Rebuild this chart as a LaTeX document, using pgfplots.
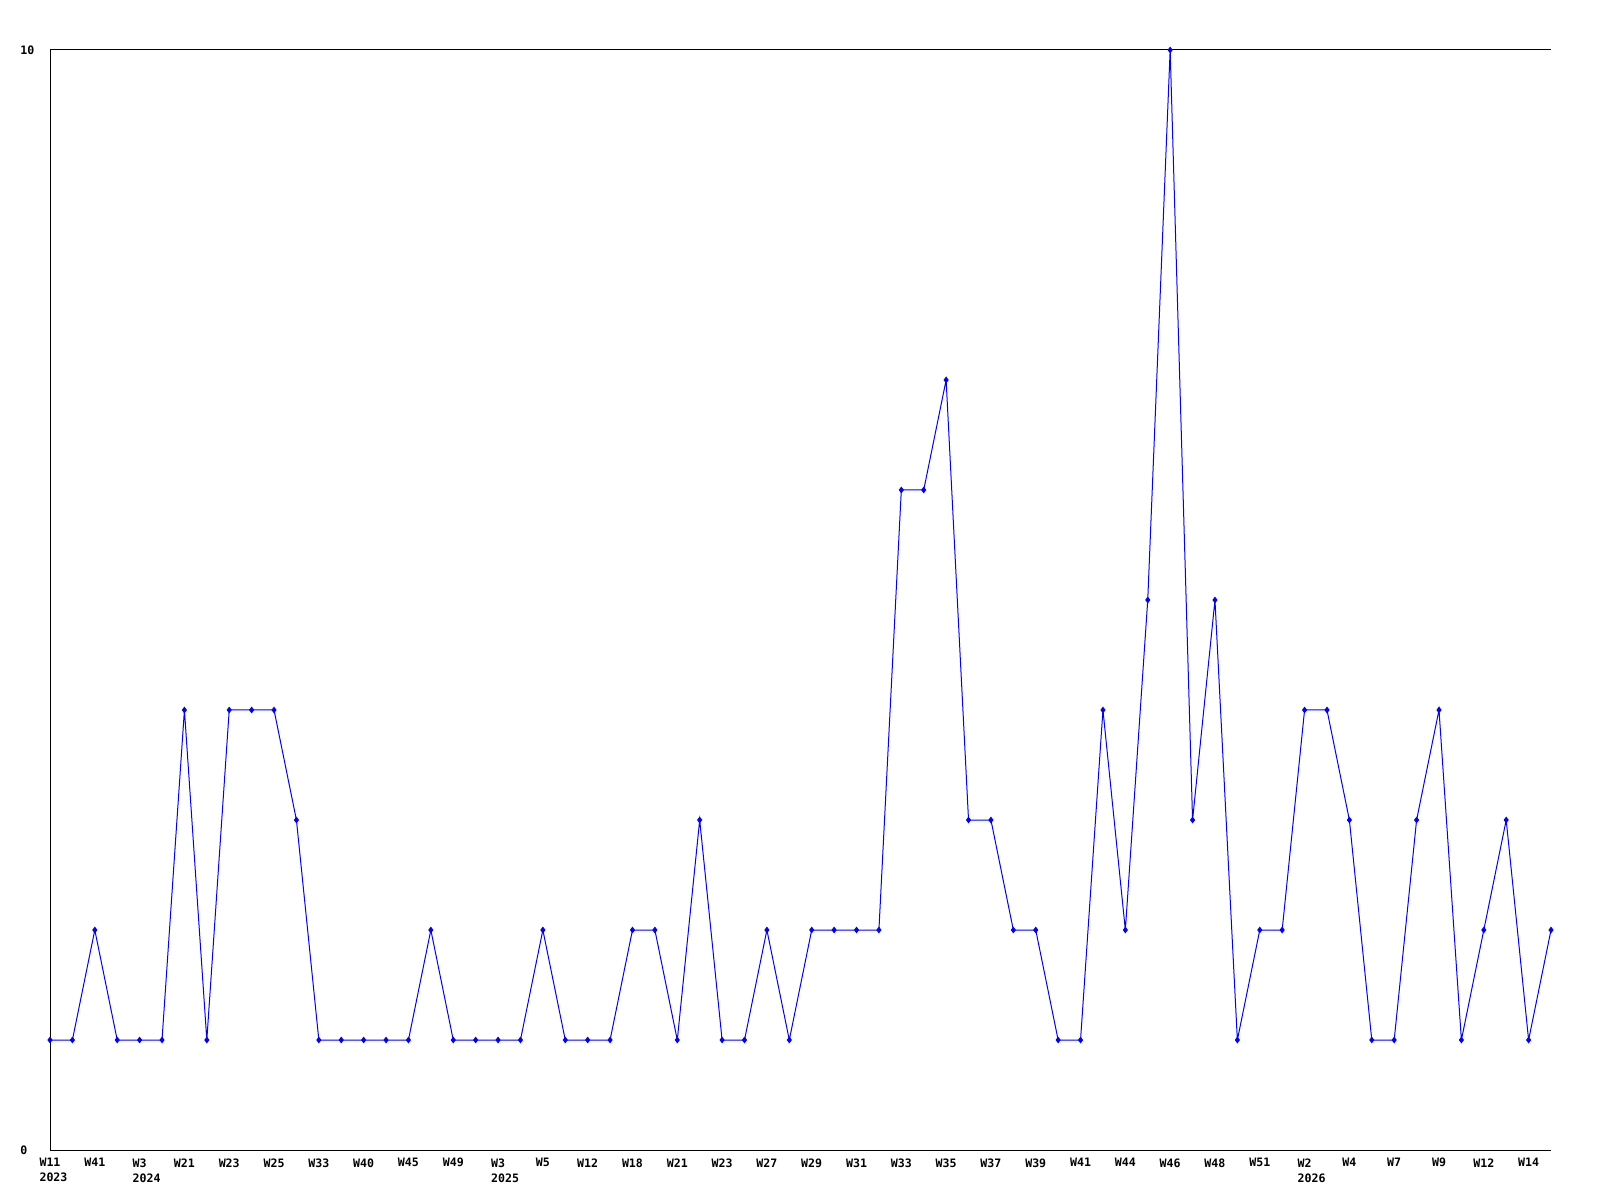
\documentclass[border=0pt]{standalone}
\usepackage{pgfplots}
\pgfplotsset{compat=1.18}
\usepackage{fontspec}
\setmonofont{DejaVu Sans Mono}
\newcommand{\yl}[2]{#1\\\rlap{#2}}
\begin{document}
\begin{tikzpicture}
\fill[white] (0,0) rectangle (800pt,600pt);
\path[use as bounding box] (0,0) rectangle (800pt,600pt);
\begin{axis}[
  at={(25pt,25pt)}, anchor=south west,
  scale only axis, width=750.5pt, height=550pt,
  xmin=0, xmax=67, ymin=0, ymax=10,
  axis line style={draw=none},
  major tick length=0pt,
  tick style={draw=none},
  ytick={0,10},
  yticklabels={0,10},
  yticklabel style={anchor=west, inner sep=0pt, xshift=-15pt, font=\fontsize{5.8}{7.5}\selectfont\ttfamily\bfseries},
  xtick={0,2,...,66},
  xticklabels={{\yl{W11}{2023}},{\yl{W41}{}},{\yl{W3}{2024}},{\yl{W21}{}},{\yl{W23}{}},{\yl{W25}{}},{\yl{W33}{}},{\yl{W40}{}},{\yl{W45}{}},{\yl{W49}{}},{\yl{W3}{2025}},{\yl{W5}{}},{\yl{W12}{}},{\yl{W18}{}},{\yl{W21}{}},{\yl{W23}{}},{\yl{W27}{}},{\yl{W29}{}},{\yl{W31}{}},{\yl{W33}{}},{\yl{W35}{}},{\yl{W37}{}},{\yl{W39}{}},{\yl{W41}{}},{\yl{W44}{}},{\yl{W46}{}},{\yl{W48}{}},{\yl{W51}{}},{\yl{W2}{2026}},{\yl{W4}{}},{\yl{W7}{}},{\yl{W9}{}},{\yl{W12}{}},{\yl{W14}{}}},
  xticklabel style={anchor=north, inner sep=0pt, yshift=-4pt, align=left, font=\fontsize{5.8}{7.5}\selectfont\ttfamily\bfseries},
  clip=false,
  /pgf/number format/assume math mode=true,
]
\draw[black, line width=0.5pt] (rel axis cs:0,1) -- (rel axis cs:0,0) -- (rel axis cs:1,0);
\draw[black, line width=0.5pt] (rel axis cs:0,1) -- (rel axis cs:1,1);
\addplot[color={rgb,255:red,0;green,0;blue,255}, line width=0.5pt, mark=diamond*, mark size=1.3pt] coordinates {
(0,1)(1,1)(2,2)(3,1)(4,1)(5,1)(6,4)(7,1)(8,4)(9,4)
(10,4)(11,3)(12,1)(13,1)(14,1)(15,1)(16,1)(17,2)(18,1)(19,1)
(20,1)(21,1)(22,2)(23,1)(24,1)(25,1)(26,2)(27,2)(28,1)(29,3)
(30,1)(31,1)(32,2)(33,1)(34,2)(35,2)(36,2)(37,2)(38,6)(39,6)
(40,7)(41,3)(42,3)(43,2)(44,2)(45,1)(46,1)(47,4)(48,2)(49,5)
(50,10)(51,3)(52,5)(53,1)(54,2)(55,2)(56,4)(57,4)(58,3)(59,1)
(60,1)(61,3)(62,4)(63,1)(64,2)(65,3)(66,1)(67,2)
};
\end{axis}
\end{tikzpicture}
\end{document}
